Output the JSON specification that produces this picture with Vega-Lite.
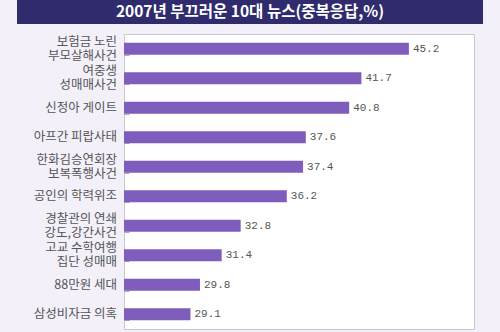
{
  "$schema": "https://vega.github.io/schema/vega-lite/v6.json",
  "background": "#f3f0fa",
  "padding": {"left": 17, "right": 17, "top": 0, "bottom": 4},
  "spacing": 9,
  "config": {"view": {"stroke": null}},
  "vconcat": [
    {
      "width": 466,
      "height": 24,
      "view": {"fill": "#2f2b6d", "stroke": null},
      "data": {"values": [{"t": "2007년 부끄러운 10대 뉴스(중복응답,%)"}]},
      "mark": {"type": "text", "color": "white", "font": "Noto Sans CJK KR", "fontSize": 15.5, "fontWeight": "bold"},
      "encoding": {"text": {"field": "t"}}
    },
    {
      "data": {"values": [
        {"item": "보험금 노린|부모살해사건", "value": 45.2},
        {"item": "여중생|성매매사건", "value": 41.7},
        {"item": "신정아 게이트", "value": 40.8},
        {"item": "아프간 피랍사태", "value": 37.6},
        {"item": "한화김승연회장|보복폭행사건", "value": 37.4},
        {"item": "공인의 학력위조", "value": 36.2},
        {"item": "경찰관의 연쇄|강도,강간사건", "value": 32.8},
        {"item": "고교 수학여행|집단 성매매", "value": 31.4},
        {"item": "88만원 세대", "value": 29.8},
        {"item": "삼성비자금 의혹", "value": 29.1}
      ]},
      "spacing": 0,
      "hconcat": [
        {
          "width": 106,
          "height": 295,
          "mark": {"type": "text", "align": "right", "baseline": "middle", "dx": -6, "dy": {"expr": "indexof(datum.item, '|') >= 0 ? -7 : 0"}, "lineBreak": "|", "lineHeight": 14, "font": "Noto Sans CJK KR", "fontSize": 12.5, "color": "#555555"},
          "encoding": {
            "y": {"field": "item", "type": "nominal", "sort": null, "scale": {"paddingInner": 0.6, "paddingOuter": 0.3}, "axis": null},
            "x": {"value": "width"},
            "text": {"field": "item"}
          }
        },
        {
          "width": 350,
          "height": 295,
          "view": {"fill": "white", "stroke": "#c8c8d0"},
          "encoding": {
            "y": {
              "field": "item", "type": "nominal", "sort": null,
              "scale": {"paddingInner": 0.6, "paddingOuter": 0.3},
              "axis": {
                "title": null,
                "labels": false,
                "domain": false,
                "ticks": true,
                "tickBand": "extent",
                "tickSize": -5,
                "tickColor": "#aaaaaa"
              }
            },
            "x": {
              "field": "value", "type": "quantitative",
              "scale": {"domain": [24.2, 50], "zero": false, "nice": false},
              "axis": null
            }
          },
          "layer": [
            {"mark": {"type": "bar", "color": "#7e5dbd", "clip": true}},
            {
              "mark": {"type": "text", "align": "left", "dx": 4, "font": "Liberation Mono", "fontSize": 11, "color": "#555555"},
              "encoding": {"text": {"field": "value", "type": "quantitative", "format": ".1f"}}
            }
          ]
        }
      ]
    }
  ]
}
